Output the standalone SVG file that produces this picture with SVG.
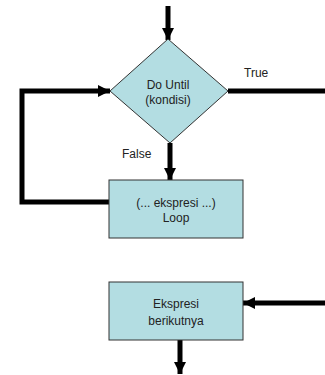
<svg xmlns="http://www.w3.org/2000/svg" width="325" height="375" viewBox="0 0 325 375">
  <style>
    .shape { fill: #b3dde2; stroke: #333333; stroke-width: 1; }
    .flow { fill: none; stroke: #000000; stroke-width: 5; stroke-linejoin: miter; }
    .label { font-family: "Liberation Sans", Arial, sans-serif; font-size: 12px; fill: #222222; text-anchor: middle; }
    .tag { font-family: "Liberation Sans", Arial, sans-serif; font-size: 12px; fill: #222222; }
  </style>
  <defs>
    <marker id="head" markerUnits="userSpaceOnUse" markerWidth="13" markerHeight="12" refX="12" refY="6" orient="auto">
      <polygon points="0,0 12,6 0,12" fill="#000000"/>
    </marker>
  </defs>

  <rect width="325" height="375" fill="#ffffff"/>

  <!-- connectors -->
  <g id="connectors">
    <line class="flow" x1="168" y1="6" x2="168" y2="40" marker-end="url(#head)"/>
    <polyline class="flow" points="110,202 22,202 22,91 110,91" marker-end="url(#head)"/>
    <line class="flow" x1="228" y1="91" x2="325" y2="91"/>
    <line class="flow" x1="170" y1="143" x2="170" y2="180" marker-end="url(#head)"/>
    <line class="flow" x1="325" y1="303" x2="243" y2="303" marker-end="url(#head)"/>
    <line class="flow" x1="180" y1="340" x2="180" y2="374" marker-end="url(#head)"/>
  </g>

  <!-- decision -->
  <g id="decision">
    <polygon class="shape" points="168,39 228,91 170,143 110,91"/>
    <text class="label" x="168" y="89">Do Until</text>
    <text class="label" x="168" y="104">(kondisi)</text>
  </g>

  <g id="label-true">
    <text class="tag" x="244" y="77">True</text>
  </g>
  <g id="label-false">
    <text class="tag" x="122" y="158">False</text>
  </g>

  <!-- loop body -->
  <g id="loop-body">
    <rect class="shape" x="109" y="180" width="134" height="58"/>
    <text class="label" x="176" y="207">(... ekspresi ...)</text>
    <text class="label" x="176" y="222">Loop</text>
  </g>

  <!-- next statement -->
  <g id="next-statement">
    <rect class="shape" x="109" y="282" width="134" height="58"/>
    <text class="label" x="176" y="308">Ekspresi</text>
    <text class="label" x="176" y="325">berikutnya</text>
  </g>
</svg>
